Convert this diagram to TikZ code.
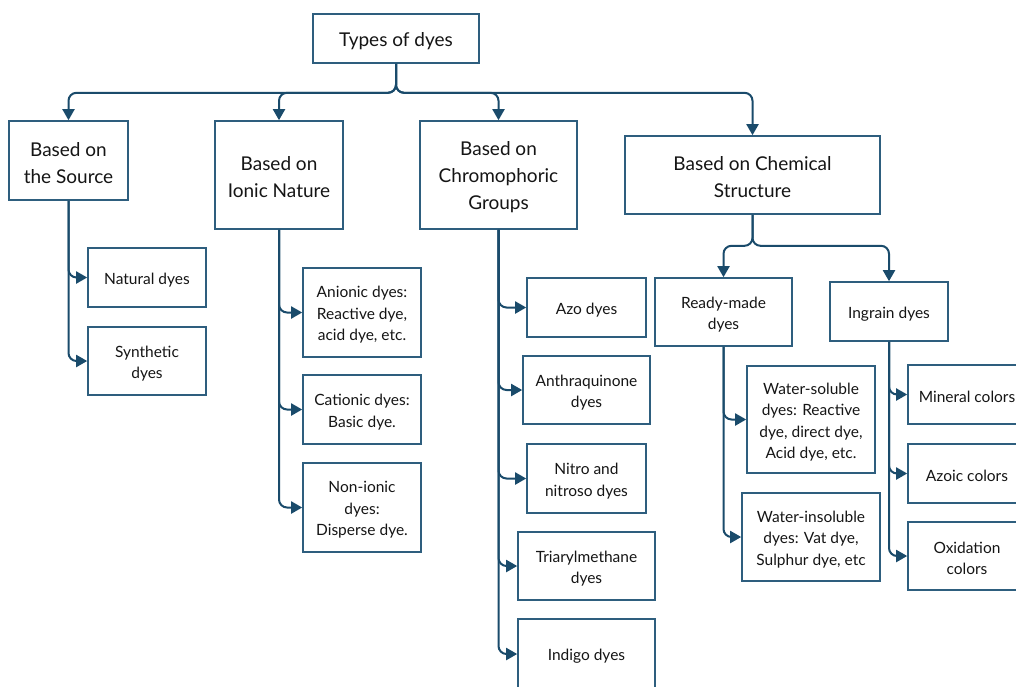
\documentclass[tikz,border=0pt]{standalone}
\usepackage{fontspec}
\setmainfont{Lato}
\usetikzlibrary{arrows.meta}
\definecolor{bx}{HTML}{2E5E7E}
\definecolor{cn}{HTML}{1A4B6B}
\definecolor{tx}{HTML}{151515}
% #1 style, #2 name, #3 position, #4 width, #5 height, #6 text
\newcommand\dyebox[6]{%
  \node[boxframe, minimum width=#4pt, minimum height=#5pt] (#2) at #3 {};
  \node[#1, yshift=-2.5pt] (#2-t) at (#2.center) {#6};}
\begin{document}
\begin{tikzpicture}[x=1pt,y=-1pt,
  boxframe/.style={draw=bx, line width=1.6pt, fill=white, inner sep=0pt},
  topbox/.style={align=center, inner sep=0pt, text=tx, font=\fontsize{19}{27}\selectfont},
  subbox/.style={align=center, inner sep=0pt, text=tx, font=\fontsize{15.5}{21.5}\selectfont},
  conn/.style={draw=cn, line width=2pt, rounded corners=8pt, -{Triangle[length=11pt,width=12pt]}}]
\useasboundingbox (0,0) rectangle (1016,686);
\clip (0,0) rectangle (1016,686);
% top level
\dyebox{topbox}{types}{(396,38.5)}{166}{49}{Types of dyes}
\dyebox{topbox}{src}{(68.5,160.5)}{119}{79}{Based on\\the Source}
\dyebox{topbox}{ion}{(279,175)}{128}{108}{Based on\\Ionic Nature}
\dyebox{topbox}{chr}{(498.5,175)}{157}{108}{Based on\\Chromophoric\\Groups}
\dyebox{topbox}{chem}{(752.5,175)}{255}{78}{Based on Chemical\\Structure}
% source
\dyebox{subbox}{nat}{(147,277.5)}{118}{59}{Natural dyes}
\dyebox{subbox}{syn}{(147,361)}{118}{68}{Synthetic\\dyes}
% ionic
\dyebox{subbox}{ani}{(362,312.5)}{118}{89}{Anionic dyes:\\Reactive dye,\\acid dye, etc.}
\dyebox{subbox}{cat}{(362,409.5)}{118}{69}{Cationic dyes:\\Basic dye.}
\dyebox{subbox}{non}{(362,507.5)}{118}{89}{Non-ionic\\dyes:\\Disperse dye.}
% chromophoric
\dyebox{subbox}{azo}{(586.5,307.5)}{119}{59}{Azo dyes}
\dyebox{subbox}{ant}{(586.5,390)}{127}{68}{Anthraquinone\\dyes}
\dyebox{subbox}{nit}{(586.5,478.5)}{119}{69}{Nitro and\\nitroso dyes}
\dyebox{subbox}{tri}{(586.5,566)}{137}{68}{Triarylmethane\\dyes}
\dyebox{subbox}{ind}{(586.5,654)}{137}{70}{Indigo dyes}
% chemical
\dyebox{subbox}{rdy}{(723.5,312)}{137}{68}{Ready-made\\dyes}
\dyebox{subbox}{ing}{(889,311.5)}{118}{59}{Ingrain dyes}
\dyebox{subbox}{wsol}{(811,419.5)}{128}{107}{Water-soluble\\dyes: Reactive\\dye, direct dye,\\Acid dye, etc.}
\dyebox{subbox}{wins}{(811,537)}{138}{88}{Water-insoluble\\dyes: Vat dye,\\Sulphur dye, etc}
\dyebox{subbox}{min}{(967,394.5)}{118}{59}{Mineral colors}
\dyebox{subbox}{azc}{(967,473.5)}{118}{59}{Azoic colors}
\dyebox{subbox}{oxi}{(967,556)}{118}{68}{Oxidation\\colors}
% connectors
\foreach \c in {src,ion,chr,chem}
  \draw[conn] (types.south) -- ++(0,29) -| (\c.north);
\foreach \c in {nat,syn}
  \draw[conn] (src.south) |- (\c.west);
\foreach \c in {ani,cat,non}
  \draw[conn] (ion.south) |- (\c.west);
\foreach \c in {azo,ant,nit,tri,ind}
  \draw[conn] (chr.south) |- (\c.west);
\foreach \c in {rdy,ing}
  \draw[conn] (chem.south) -- ++(0,31) -| (\c.north);
\foreach \c in {wsol,wins}
  \draw[conn] (rdy.south) |- (\c.west);
\foreach \c in {min,azc,oxi}
  \draw[conn] (ing.south) |- (\c.west);
\end{tikzpicture}
\end{document}
